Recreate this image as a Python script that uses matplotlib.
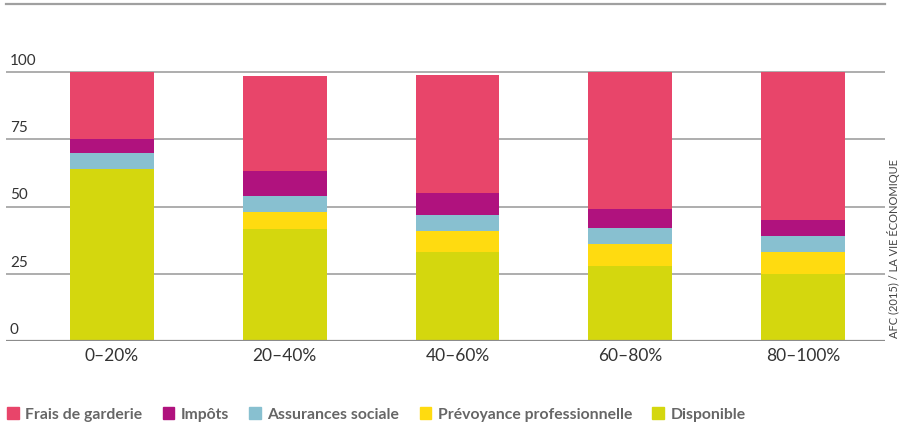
import numpy as np
import matplotlib.pyplot as plt
from matplotlib.patches import Patch
from matplotlib.transforms import blended_transform_factory

# Data (share of income, %)
groups = ['0–20%', '20–40%', '40–60%', '60–80%', '80–100%']
disponible = [64.0, 41.6, 33.1, 27.9, 24.9]
prevoyance = [0.0, 6.4, 7.8, 8.2, 8.2]
assurances = [6.0, 5.9, 5.9, 5.9, 5.9]
impots = [5.0, 9.3, 8.2, 7.1, 6.0]
frais = [25.0, 35.3, 43.9, 50.9, 55.0]

series = [
    ('Disponible', disponible, '#D4D70E'),
    ('Prévoyance professionnelle', prevoyance, '#FFDB10'),
    ('Assurances sociale', assurances, '#88C0D0'),
    ('Impôts', impots, '#B0127E'),
    ('Frais de garderie', frais, '#E8456A'),
]
yticks = [0, 25, 50, 75, 100]

fig = plt.figure(figsize=(8.99, 4.23), dpi=100)
ax = fig.add_axes([6 / 899, 82 / 423, 879 / 899, 337 / 423])

x = np.arange(len(groups))
bottom = np.zeros(len(groups))
for name, vals, col in series:
    ax.bar(x, vals, width=0.486, bottom=bottom, color=col, zorder=3)
    bottom += np.array(vals)

ax.set_xlim(-0.614, 4.475)
ax.set_ylim(0, 125.3)

for y in yticks[1:]:
    ax.axhline(y, color='#a0a0a0', lw=1.2, zorder=1)
ax.axhline(0, color='#8c8c8c', lw=1.6, zorder=4)

for s in ['left', 'right', 'bottom']:
    ax.spines[s].set_visible(False)
ax.spines['top'].set_color('#a0a0a0')
ax.spines['top'].set_linewidth(1.6)

ax.set_yticks([])
ax.set_xticks(x)
ax.set_xticklabels(groups, fontsize=12.5, color='#333333', family='Lato')
ax.tick_params(axis='x', length=0, pad=5)

trans = blended_transform_factory(fig.transFigure, ax.transData)
for y in yticks:
    ax.text(10 / 899, y + 1.5, str(y), transform=trans, fontsize=11,
            color='#333333', family='Lato', ha='left', va='bottom')

fig.text(894 / 899, 1 - 249 / 423, 'AFC (2015) / LA VIE ÉCONOMIQUE', rotation=90,
         fontsize=8, color='#444444', family='Lato', ha='center', va='center')

handles = [Patch(color=col, label=name) for name, vals, col in series[::-1]]
fig.legend(handles=handles, loc='lower left', bbox_to_anchor=(-0.008, -0.03), ncol=5,
           frameon=False, handlelength=0.75, handleheight=0.75, handletextpad=0.4,
           columnspacing=1.3, prop={'family': 'Lato', 'weight': 'bold', 'size': 11.3},
           labelcolor='#666666')

fig.savefig('out.png', dpi=100)
